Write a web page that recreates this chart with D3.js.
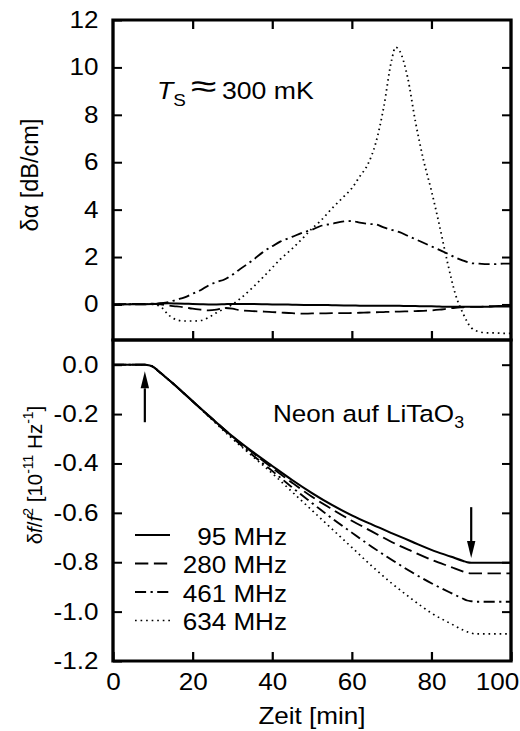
<!DOCTYPE html>
<html>
<head>
<meta charset="utf-8">
<script src="https://cdn.jsdelivr.net/npm/d3@7"></script>
<style>
  body { margin: 0; background: #fff; }
  svg { display: block; }
  text { font-family: "Liberation Sans", Arial, Helvetica, sans-serif; fill: #000; }
</style>
</head>
<body>
<div id="chart"></div>
<script>
// frequencies (legend)
const freqLabels = ['95 MHz', '280 MHz', '461 MHz', '634 MHz'];

// top panel: attenuation change, dB/cm
const timeTop = [0, 5, 10, 12, 14, 16, 18, 20, 22, 24, 26, 28, 30, 32, 35, 38, 40, 42, 45, 48, 50, 52, 55, 58, 60,
    62, 64, 66, 68, 70, 71, 72, 74, 76, 78, 80, 82, 84, 86, 88, 90, 92, 94, 96, 98, 100];
const att95 = [0, 0.01, 0.02, 0.04, 0.05, 0.04, 0.03, 0.02, 0.01, 0, 0, 0.01, 0.02, 0.02, 0.02, 0.01, 0, 0, -0.01,
    -0.02, -0.02, -0.02, -0.03, -0.04, -0.04, -0.05, -0.05, -0.05, -0.06, -0.06, -0.06, -0.06, -0.07, -0.07, -0.08,
    -0.08, -0.09, -0.1, -0.1, -0.1, -0.1, -0.1, -0.1, -0.09, -0.09, -0.09];
const att280 = [0, 0.02, 0.03, 0, -0.05, -0.08, -0.12, -0.18, -0.22, -0.25, -0.22, -0.15, -0.18, -0.25, -0.28, -0.3,
    -0.32, -0.34, -0.37, -0.39, -0.38, -0.38, -0.37, -0.37, -0.36, -0.35, -0.34, -0.33, -0.32, -0.31, -0.3, -0.3,
    -0.29, -0.28, -0.27, -0.25, -0.22, -0.18, -0.14, -0.12, -0.1, -0.1, -0.08, -0.07, -0.06, -0.05];
const att461 = [0, 0, 0.02, 0.05, 0.1, 0.2, 0.3, 0.45, 0.6, 0.8, 0.95, 1.05, 1.25, 1.5, 1.85, 2.25, 2.45, 2.65, 2.85,
    3.05, 3.15, 3.3, 3.4, 3.5, 3.52, 3.45, 3.4, 3.38, 3.25, 3.15, 3.1, 3.05, 2.9, 2.75, 2.6, 2.45, 2.3, 2.15, 1.98,
    1.85, 1.74, 1.72, 1.7, 1.7, 1.72, 1.72];
const att634 = [0, 0.02, 0, -0.1, -0.45, -0.65, -0.7, -0.7, -0.68, -0.55, -0.35, -0.18, 0, 0.25, 0.7, 1.2, 1.55, 1.9,
    2.35, 2.85, 3.2, 3.5, 4.05, 4.55, 4.9, 5.4, 5.9, 6.8, 8.3, 10.3, 10.85, 10.7, 9.6, 7.7, 6.1, 4.8, 3.35, 1.8, 0.45,
    -0.4, -0.98, -1.15, -1.2, -1.2, -1.22, -1.22];

// bottom panel: frequency shift, 1e-11 Hz^-1
const timeBot = [0, 5, 8, 9, 10, 11, 12, 15, 20, 25, 30, 35, 40, 45, 50, 55, 60, 65, 70, 75, 80, 85, 88, 89, 90, 91,
    92, 95, 100];
const shift95 = [0, 0, 0, -0.002, -0.008, -0.02, -0.034, -0.075, -0.148, -0.22, -0.29, -0.352, -0.41, -0.467, -0.52,
    -0.568, -0.61, -0.647, -0.682, -0.716, -0.75, -0.778, -0.795, -0.8, -0.802, -0.802, -0.802, -0.802, -0.802];
const shift280 = [0, 0, 0, -0.002, -0.008, -0.02, -0.034, -0.075, -0.148, -0.22, -0.29, -0.355, -0.418, -0.478,
    -0.535, -0.585, -0.632, -0.675, -0.718, -0.755, -0.79, -0.82, -0.838, -0.843, -0.845, -0.845, -0.845, -0.845, -0.845];
const shift461 = [0, 0, 0, -0.002, -0.008, -0.02, -0.034, -0.075, -0.148, -0.222, -0.295, -0.365, -0.43, -0.497,
    -0.56, -0.622, -0.68, -0.737, -0.79, -0.84, -0.885, -0.925, -0.948, -0.955, -0.958, -0.96, -0.96, -0.96, -0.96];
const shift634 = [0, 0, 0, -0.002, -0.008, -0.02, -0.034, -0.075, -0.148, -0.225, -0.3, -0.37, -0.44, -0.515, -0.59,
    -0.665, -0.74, -0.815, -0.885, -0.948, -1.006, -1.05, -1.075, -1.082, -1.087, -1.09, -1.09, -1.09, -1.09];

// arrows marking start / end of deposition
const arrowTime = [8, 90];
const arrowFrom = [-0.233, -0.577];
const arrowTo = [-0.027, -0.783];

// ticks
const xTicks = [0, 20, 40, 60, 80, 100];
const yTopTicks = [0, 2, 4, 6, 8, 10, 12];
const yBotTicks = [-1.2, -1.0, -0.8, -0.6, -0.4, -0.2, 0.0];

const dashes = [null, '12,5', '10,4,2,4', '1.5,3.5'];
const widths = [2, 1.8, 1.8, 1.6];

const W = 520, H = 731;
const SX = 1.11; // the original lettering is a bit wider than Arial
const fs = 23.5;

const svg = d3.select('#chart').append('svg')
    .attr('width', W)
    .attr('height', H);

const g = svg.append('g').attr('transform', `scale(${SX},1)`);

const x = d3.scaleLinear().domain([0, 100]).range([113 / SX, 511 / SX]);
const yTop = d3.scaleLinear().domain([-1.5, 12]).range([340, 20]);
const yBot = d3.scaleLinear().domain([-1.2, 0.1]).range([661, 340]);

const tick = 9 / SX;

function styleAxis(sel, labels) {
    sel.select('.domain').remove();
    sel.selectAll('.tick line').attr('stroke', '#000').attr('stroke-width', 2);
    sel.attr('font-family', null).attr('font-size', null);
    sel.selectAll('text').style('font-size', fs + 'px');
    if (!labels) sel.selectAll('text').remove();
}

// top panel axes
g.append('g')
    .call(d3.axisLeft(yTop).tickValues(yTopTicks).tickSize(-tick).tickPadding(14.5 / SX).tickFormat(d3.format('d')))
    .call(s => styleAxis(s, true))
    .attr('transform', `translate(${x(0)},0)`);
g.append('g')
    .attr('transform', `translate(${x(100)},0)`)
    .call(d3.axisRight(yTop).tickValues(yTopTicks.slice(0, 6)).tickSize(-tick))
    .call(s => styleAxis(s, false));
g.append('g')
    .attr('transform', `translate(0,${yTop(12)})`)
    .call(d3.axisTop(x).tickValues([20, 40, 60, 80]).tickSize(-9))
    .call(s => styleAxis(s, false));
g.append('g')
    .attr('transform', `translate(0,${yTop(-1.5)})`)
    .call(d3.axisBottom(x).tickValues([20, 40, 60, 80]).tickSize(-9))
    .call(s => styleAxis(s, false));

// bottom panel axes
g.append('g')
    .attr('transform', `translate(${x(0)},0)`)
    .call(d3.axisLeft(yBot).tickValues(yBotTicks).tickSize(-tick).tickPadding(14.5 / SX).tickFormat(d => d.toFixed(1)))
    .call(s => styleAxis(s, true));
g.append('g')
    .attr('transform', `translate(${x(100)},0)`)
    .call(d3.axisRight(yBot).tickValues(yBotTicks.slice(1)).tickSize(-tick))
    .call(s => styleAxis(s, false));
const xAxis = g.append('g')
    .attr('transform', `translate(0,${yBot(-1.2)})`)
    .call(d3.axisBottom(x).tickValues(xTicks).tickSize(-9).tickPadding(12))
    .call(s => styleAxis(s, true));
xAxis.selectAll('text').filter(d => d === 100).attr('dx', -14 / SX);

// frames
g.append('rect')
    .attr('x', x(0)).attr('y', yTop(12))
    .attr('width', x(100) - x(0)).attr('height', yTop(-1.5) - yTop(12))
    .attr('fill', 'none').attr('stroke', '#000').attr('stroke-width', 3);
g.append('rect')
    .attr('x', x(0)).attr('y', yBot(0.1))
    .attr('width', x(100) - x(0)).attr('height', yBot(-1.2) - yBot(0.1))
    .attr('fill', 'none').attr('stroke', '#000').attr('stroke-width', 3);

// curves
const topSeries = [att95, att280, att461, att634];
const botSeries = [shift95, shift280, shift461, shift634];

const lineTop = d3.line()
    .x((d, i) => x(timeTop[i]))
    .y(d => yTop(d))
    .curve(d3.curveMonotoneX);
const lineBot = d3.line()
    .x((d, i) => x(timeBot[i]))
    .y(d => yBot(d))
    .curve(d3.curveMonotoneX);

topSeries.forEach((s, i) => {
    g.append('path')
        .attr('d', lineTop(s))
        .attr('fill', 'none')
        .attr('stroke', '#000')
        .attr('stroke-width', widths[i])
        .attr('stroke-dasharray', dashes[i]);
});
botSeries.forEach((s, i) => {
    g.append('path')
        .attr('d', lineBot(s))
        .attr('fill', 'none')
        .attr('stroke', '#000')
        .attr('stroke-width', widths[i])
        .attr('stroke-dasharray', dashes[i]);
});

// arrows
const headLen = 17, headW = 4.2 / SX;
arrowTime.forEach((t, i) => {
    const ax = x(t), y0 = yBot(arrowFrom[i]), y1 = yBot(arrowTo[i]);
    const dir = y1 < y0 ? 1 : -1;
    g.append('line')
        .attr('x1', ax).attr('x2', ax)
        .attr('y1', y0).attr('y2', y1 + dir * headLen)
        .attr('stroke', '#000').attr('stroke-width', 2.2 / SX);
    g.append('path')
        .attr('d', `M${ax},${y1}L${ax - headW},${y1 + dir * headLen}L${ax + headW},${y1 + dir * headLen}Z`)
        .attr('fill', '#000');
});

// legend
const legend = g.append('g');
freqLabels.forEach((lab, i) => {
    const yb = 545 + i * 28.5;
    legend.append('line')
        .attr('x1', 135 / SX).attr('x2', 170 / SX)
        .attr('y1', yb - 10).attr('y2', yb - 10)
        .attr('stroke', '#000')
        .attr('stroke-width', widths[i])
        .attr('stroke-dasharray', dashes[i]);
    legend.append('text')
        .attr('x', 287 / SX).attr('y', yb)
        .attr('text-anchor', 'end')
        .style('font-size', fs + 'px')
        .text(lab);
});

// annotations
const ts = g.append('text')
    .attr('x', 157 / SX).attr('y', 99)
    .style('font-size', '24px');
ts.append('tspan').style('font-style', 'italic').text('T');
ts.append('tspan').attr('dy', 7).style('font-size', '17px').text('S');
g.append('text')
    .attr('transform', `translate(${203.5 / SX},97) scale(1.45,1.1)`)
    .attr('text-anchor', 'middle')
    .style('font-size', '29px')
    .text('≈');
g.append('text')
    .attr('x', 222 / SX).attr('y', 99)
    .style('font-size', '24px')
    .text('300 mK');

const neon = g.append('text')
    .attr('x', 273 / SX).attr('y', 422)
    .style('font-size', fs + 'px');
neon.append('tspan').text('Neon auf LiTaO');
neon.append('tspan').attr('dy', 6).style('font-size', '16px').text('3');

// axis titles
svg.append('text')
    .attr('x', 312).attr('y', 724)
    .attr('text-anchor', 'middle')
    .style('font-size', fs + 'px')
    .attr('transform', `translate(312,0) scale(${SX},1) translate(-312,0)`)
    .text('Zeit [min]');

svg.append('text')
    .attr('transform', 'translate(37.5,175) rotate(-90)')
    .attr('text-anchor', 'middle')
    .style('font-size', fs + 'px')
    .text('δα [dB/cm]');

const yl = svg.append('text')
    .attr('transform', 'translate(42,475) rotate(-90)')
    .attr('text-anchor', 'middle')
    .style('font-size', '20.5px');
yl.append('tspan').text('δ');
yl.append('tspan').style('font-style', 'italic').text('f');
yl.append('tspan').text('/');
yl.append('tspan').style('font-style', 'italic').text('f');
yl.append('tspan').attr('dy', -9).style('font-size', '14px').text('2');
yl.append('tspan').attr('dy', 9).text(' [10');
yl.append('tspan').attr('dy', -9).style('font-size', '14px').text('-11');
yl.append('tspan').attr('dy', 9).text(' Hz');
yl.append('tspan').attr('dy', -9).style('font-size', '14px').text('-1');
yl.append('tspan').attr('dy', 9).text(']');
</script>
</body>
</html>
